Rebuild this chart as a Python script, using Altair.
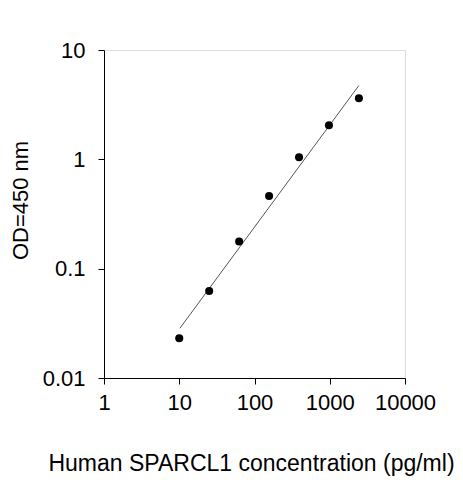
import altair as alt
import pandas as pd

conc = [10, 25, 62.5, 156.25, 390.6, 976.6, 2441]
od = [0.0231, 0.0625, 0.177, 0.462, 1.045, 2.05, 3.62]

fit_x = [10.2, 2430]
fit_y = [0.0285, 4.72]

x_ticks = [1, 10, 100, 1000, 10000]
y_ticks = [0.01, 0.1, 1, 10]

pts = pd.DataFrame({"x": conc, "y": od})
fit = pd.DataFrame({"x": fit_x, "y": fit_y})

FONT = "Liberation Sans"

xscale = alt.Scale(type="log", domain=[1, 10000], nice=False)
yscale = alt.Scale(type="log", domain=[0.01, 10], nice=False)

xaxis = alt.Axis(
    values=x_ticks, format="~g", grid=False, tickSize=6, tickColor="black",
    domainColor="black", labelFont=FONT, labelFontSize=22, labelColor="black",
    labelPadding=8, labelFlush=False,
    title="Human SPARCL1 concentration (pg/ml)", titleFont=FONT,
    titleFontSize=23, titleFontWeight="normal", titleColor="black",
    titleX=147, titleY=85, titleBaseline="middle", titleAlign="center",
)
yaxis = alt.Axis(
    values=y_ticks, format="~g", grid=False, tickSize=6, tickColor="black",
    domainColor="black", labelFont=FONT, labelFontSize=22, labelColor="black",
    labelPadding=13, labelFlush=False,
    title="OD=450 nm", titleFont=FONT, titleFontSize=22,
    titleFontWeight="normal", titleColor="black",
    titleX=-84, titleY=150, titleAngle=-90, titleBaseline="middle",
    titleAlign="center",
)

line = alt.Chart(fit).mark_line(color="#555555", strokeWidth=1).encode(
    x=alt.X("x:Q", scale=xscale, axis=xaxis),
    y=alt.Y("y:Q", scale=yscale, axis=yaxis),
)
points = alt.Chart(pts).mark_circle(color="black", opacity=1, size=65).encode(
    x=alt.X("x:Q", scale=xscale),
    y=alt.Y("y:Q", scale=yscale),
)

chart = (
    alt.layer(line, points)
    .properties(
        width=301, height=328,
        autosize=alt.AutoSizeParams(type="none"),
        padding={"left": 96, "top": 42, "right": 50, "bottom": 100},
    )
    .configure_view(stroke="black", strokeWidth=1)
    .configure(background="white")
)

chart.save("out.html", embed_options={"renderer": "svg", "actions": False})
